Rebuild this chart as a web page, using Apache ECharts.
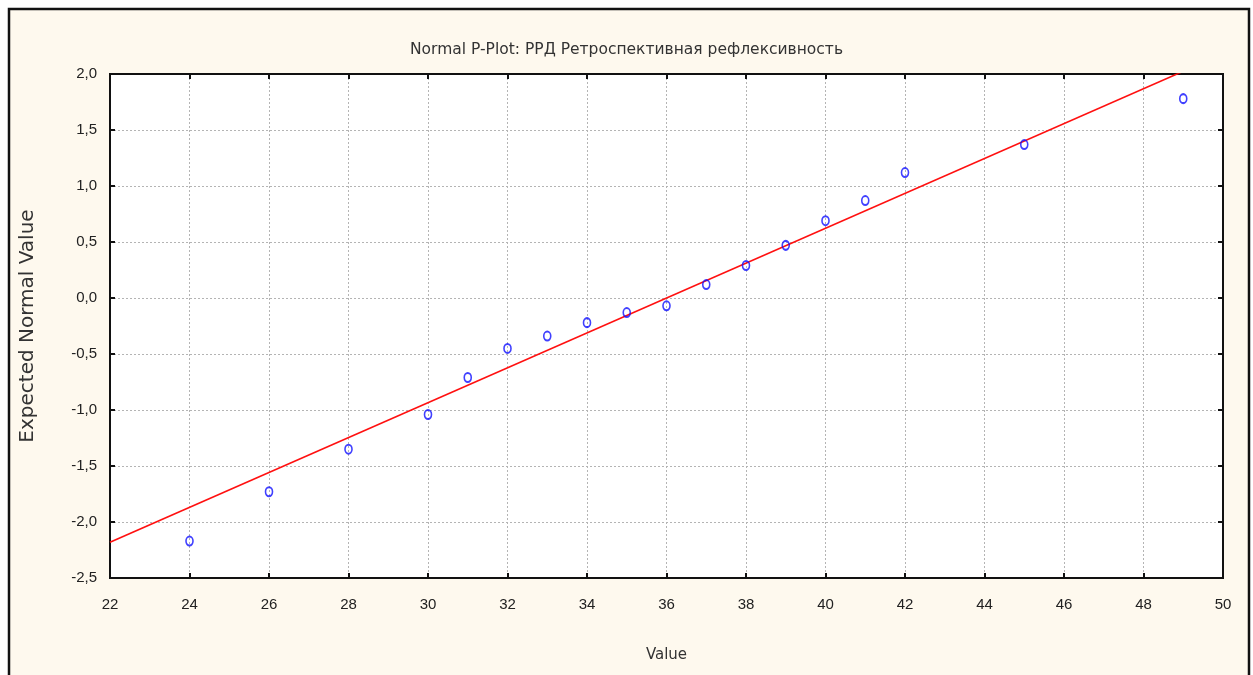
<!DOCTYPE html>
<html>
<head>
<meta charset="utf-8">
<script src="https://cdn.jsdelivr.net/npm/echarts@6/dist/echarts.min.js"></script>
<style>
  html, body { margin: 0; padding: 0; background: #fff; }
  #main { width: 1253px; height: 675px; }
</style>
</head>
<body>
<div id="main"></div>
<script>
// observed values (x) and expected normal values (y)
var obsValues = [24, 26, 28, 30, 31, 32, 33, 34, 35, 36, 37, 38, 39, 40, 41, 42, 45, 49];
var expectedNormal = [-2.17, -1.73, -1.35, -1.04, -0.71, -0.45, -0.34, -0.22, -0.13, -0.07,
    0.12, 0.29, 0.47, 0.69, 0.87, 1.12, 1.37, 1.78];

// fitted reference line end points
var fitX = [22, 50];
var fitY = [-2.18, 2.18];

var titleText = "Normal P-Plot: РРД Ретроспективная рефлексивность";

function commaFmt(v) {
    return v.toFixed(1).replace(".", ",");
}

var chart = echarts.init(document.getElementById("main"));

var labelFont = {
    fontFamily: "Liberation Sans",
    fontSize: 15,
    color: "#222",
};

var gridLine = {
    show: true,
    lineStyle: { color: "#b4b4b4", type: [2, 2], width: 1 },
};

var frameLine = { show: true, onZero: false, lineStyle: { color: "#111", width: 2 } };
var frameTick = { show: true, inside: true, length: 5, lineStyle: { color: "#111", width: 2 } };

var options = {
    backgroundColor: "#fff",
    animation: false,
    graphic: [{
        type: "rect",
        z: -10,
        shape: { x: 9, y: 9, width: 1240, height: 700 },
        style: { fill: "#fef9ee", stroke: "#111", lineWidth: 2.5 },
    }],
    title: {
        left: "center",
        top: 37,
        text: titleText,
        textStyle: {
            fontFamily: "DejaVu Sans",
            fontSize: 15.5,
            fontWeight: "normal",
            color: "#333",
        },
    },
    grid: {
        left: 110,
        top: 74,
        right: 30,
        bottom: 97,
        show: true,
        backgroundColor: "#fff",
        borderColor: "#111",
        borderWidth: 2,
    },
    xAxis: [{
        type: "value",
        min: 22,
        max: 50,
        interval: 2,
        name: "Value",
        nameLocation: "middle",
        nameGap: 70,
        nameTextStyle: { fontFamily: "DejaVu Sans", fontSize: 15, color: "#333" },
        axisLine: frameLine,
        axisTick: frameTick,
        axisLabel: Object.assign({ margin: 19 }, labelFont),
        splitLine: gridLine,
    }, {
        type: "value",
        position: "top",
        min: 22,
        max: 50,
        interval: 2,
        axisLine: frameLine,
        axisTick: frameTick,
        axisLabel: { show: false },
        splitLine: { show: false },
    }],
    yAxis: [{
        type: "value",
        min: -2.5,
        max: 2,
        interval: 0.5,
        name: "Expected Normal Value",
        nameLocation: "middle",
        nameGap: 72,
        nameTextStyle: { fontFamily: "DejaVu Sans", fontSize: 20, color: "#333" },
        axisLine: frameLine,
        axisTick: frameTick,
        axisLabel: Object.assign({ margin: 13, formatter: commaFmt }, labelFont),
        splitLine: gridLine,
    }, {
        type: "value",
        position: "right",
        min: -2.5,
        max: 2,
        interval: 0.5,
        axisLine: frameLine,
        axisTick: frameTick,
        axisLabel: { show: false },
        splitLine: { show: false },
    }],
    series: [{
        type: "line",
        data: fitX.map(function (x, i) { return [x, fitY[i]]; }),
        showSymbol: false,
        clip: true,
        lineStyle: { color: "#ff1010", width: 1.6 },
        z: 2,
    }, {
        type: "scatter",
        data: obsValues.map(function (x, i) { return [x, expectedNormal[i]]; }),
        symbol: "circle",
        symbolSize: [7, 9],
        itemStyle: {
            color: "rgba(255,255,255,0)",
            borderColor: "#1010ff",
            borderWidth: 1.8,
        },
        z: 3,
    }],
};

chart.setOption(options);
</script>
</body>
</html>
